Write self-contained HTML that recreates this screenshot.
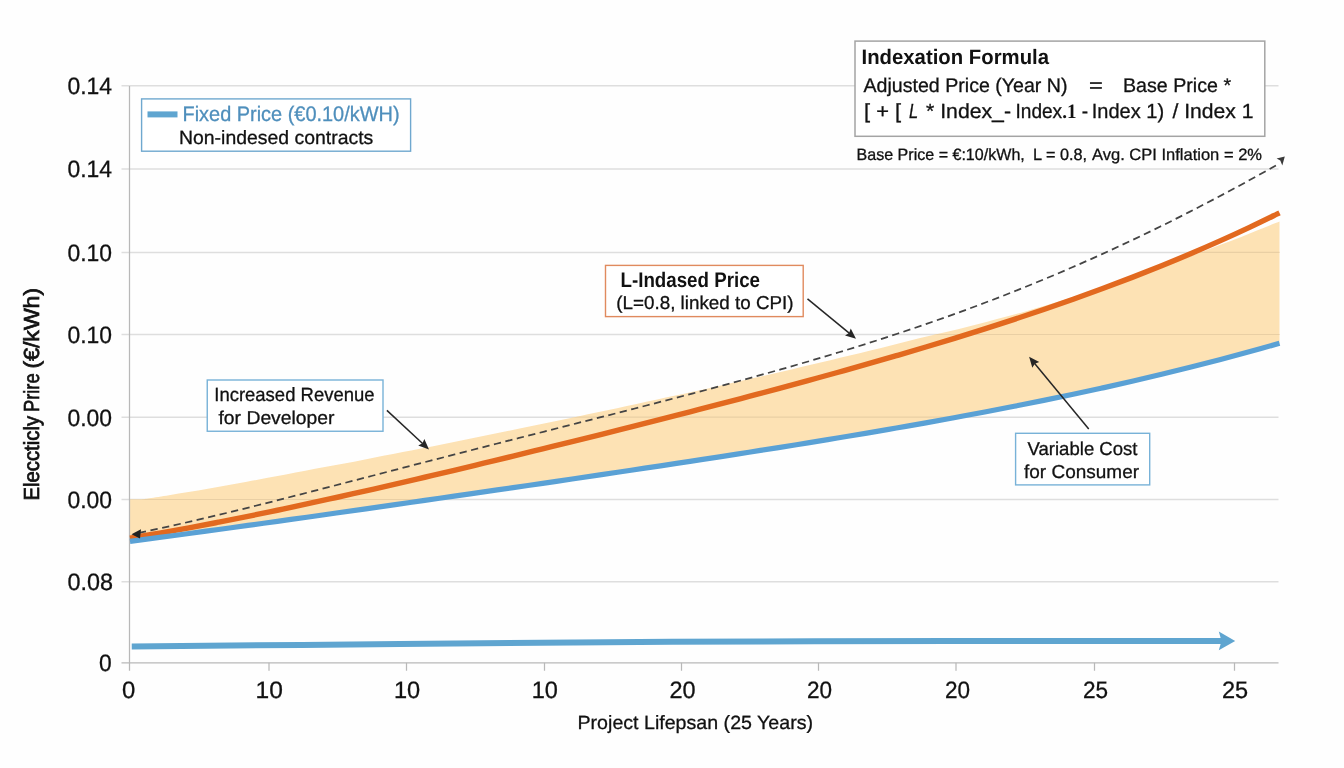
<!DOCTYPE html>
<html lang="en">
<head>
<meta charset="utf-8">
<title>Indexation Formula - Electricity Price over Project Lifespan</title>
<style>
html,body{margin:0;padding:0;background:#fefefe;}
body{width:1344px;height:768px;overflow:hidden;}
svg{display:block;}
</style>
</head>
<body>
<svg width="1344" height="768" viewBox="0 0 1344 768" text-rendering="geometricPrecision" font-family='"Liberation Sans", Arial, Helvetica, sans-serif'>
<rect x="0" y="0" width="1344" height="768" fill="#fefefe"/>
<g stroke="#dedede" stroke-width="1.5" fill="none">
<line x1="121.50" y1="85.80" x2="1278.50" y2="85.80"/>
<line x1="121.50" y1="168.90" x2="1278.50" y2="168.90"/>
<line x1="121.50" y1="252.40" x2="1278.50" y2="252.40"/>
<line x1="121.50" y1="334.50" x2="1278.50" y2="334.50"/>
<line x1="121.50" y1="417.20" x2="1278.50" y2="417.20"/>
<line x1="121.50" y1="499.50" x2="1278.50" y2="499.50"/>
<line x1="121.50" y1="581.70" x2="1278.50" y2="581.70"/>
</g>
<path d="M130.00,499.50 C131.00,499.49 134.00,499.47 136.00,499.46 C138.00,499.44 139.75,499.60 142.00,499.40 C144.25,499.20 144.99,498.96 149.48,498.26 C153.98,497.56 162.47,496.24 168.97,495.20 C175.46,494.16 181.95,493.09 188.45,492.00 C194.94,490.91 201.44,489.81 207.93,488.68 C214.43,487.55 220.92,486.40 227.42,485.24 C233.91,484.08 240.40,482.89 246.90,481.69 C253.39,480.50 259.89,479.29 266.38,478.07 C272.88,476.86 279.37,475.64 285.86,474.42 C292.36,473.20 298.85,471.98 305.35,470.76 C311.84,469.54 318.34,468.32 324.83,467.09 C331.32,465.86 337.82,464.63 344.31,463.39 C350.81,462.14 357.30,460.89 363.80,459.64 C370.29,458.39 376.79,457.13 383.28,455.87 C389.77,454.62 396.27,453.35 402.76,452.09 C409.26,450.82 415.75,449.55 422.25,448.27 C428.74,446.99 435.23,445.70 441.73,444.41 C448.22,443.12 454.72,441.82 461.21,440.51 C467.71,439.21 474.20,437.89 480.69,436.58 C487.19,435.26 493.68,433.93 500.18,432.61 C506.67,431.28 513.17,429.94 519.66,428.60 C526.16,427.26 532.65,425.92 539.14,424.57 C545.64,423.22 552.13,421.86 558.63,420.50 C565.12,419.14 571.62,417.78 578.11,416.41 C584.60,415.04 591.10,413.66 597.59,412.28 C604.09,410.90 610.58,409.52 617.08,408.13 C623.57,406.74 630.06,405.35 636.56,403.95 C643.05,402.55 649.55,401.14 656.04,399.73 C662.54,398.32 669.03,396.91 675.53,395.49 C682.02,394.07 688.51,392.64 695.01,391.21 C701.50,389.77 708.00,388.34 714.49,386.89 C720.99,385.44 727.48,383.99 733.97,382.53 C740.47,381.07 746.96,379.60 753.46,378.12 C759.95,376.65 766.45,375.16 772.94,373.67 C779.44,372.18 785.93,370.67 792.42,369.16 C798.92,367.65 805.41,366.13 811.91,364.59 C818.40,363.06 824.90,361.52 831.39,359.96 C837.88,358.41 844.38,356.84 850.87,355.26 C857.37,353.68 863.86,352.08 870.36,350.48 C876.85,348.88 883.34,347.26 889.84,345.66 C896.33,344.06 902.83,342.44 909.32,340.86 C915.82,339.27 922.31,337.70 928.81,336.12 C935.30,334.55 941.79,333.00 948.29,331.42 C954.78,329.84 961.28,328.27 967.77,326.65 C974.27,325.03 980.76,323.40 987.25,321.71 C993.75,320.03 1000.24,318.31 1006.74,316.55 C1013.23,314.79 1019.73,312.98 1026.22,311.14 C1032.71,309.29 1039.21,307.40 1045.70,305.47 C1052.20,303.54 1058.69,301.57 1065.19,299.56 C1071.68,297.55 1078.18,295.50 1084.67,293.42 C1091.16,291.33 1097.66,289.21 1104.15,287.06 C1110.65,284.90 1117.14,282.70 1123.64,280.47 C1130.13,278.24 1136.62,275.97 1143.12,273.65 C1149.61,271.34 1156.11,268.98 1162.60,266.60 C1169.10,264.21 1175.59,261.78 1182.08,259.35 C1188.58,256.91 1195.07,254.45 1201.57,251.99 C1208.06,249.53 1214.56,247.07 1221.05,244.60 C1227.55,242.12 1234.04,239.69 1240.53,237.14 C1247.03,234.60 1253.52,231.92 1260.02,229.33 C1266.51,226.74 1276.25,222.87 1279.50,221.58 L1279.50,343.24 C1274.59,344.63 1259.85,348.87 1250.03,351.58 C1240.20,354.29 1230.38,356.93 1220.55,359.52 C1210.73,362.11 1200.90,364.63 1191.08,367.10 C1181.25,369.57 1171.43,371.98 1161.60,374.34 C1151.78,376.70 1141.95,379.00 1132.13,381.26 C1122.30,383.52 1112.48,385.73 1102.65,387.90 C1092.83,390.06 1083.00,392.18 1073.18,394.26 C1063.35,396.35 1053.53,398.38 1043.71,400.39 C1033.88,402.39 1024.06,404.35 1014.23,406.29 C1004.41,408.22 994.58,410.11 984.76,411.98 C974.93,413.85 965.11,415.68 955.28,417.49 C945.46,419.30 935.63,421.07 925.81,422.83 C915.98,424.58 906.16,426.31 896.33,428.02 C886.51,429.73 876.68,431.41 866.86,433.07 C857.03,434.74 847.21,436.38 837.38,438.01 C827.56,439.64 817.74,441.24 807.91,442.84 C798.09,444.43 788.26,446.01 778.44,447.57 C768.61,449.14 758.79,450.69 748.96,452.23 C739.14,453.77 729.31,455.29 719.49,456.81 C709.66,458.33 699.84,459.84 690.01,461.33 C680.19,462.83 670.36,464.32 660.54,465.81 C650.71,467.29 640.89,468.76 631.06,470.23 C621.24,471.70 611.41,473.16 601.59,474.62 C591.76,476.08 581.94,477.53 572.12,478.98 C562.29,480.43 552.47,481.87 542.64,483.31 C532.82,484.75 522.99,486.18 513.17,487.62 C503.34,489.05 493.52,490.48 483.69,491.90 C473.87,493.33 464.04,494.75 454.22,496.17 C444.39,497.59 434.57,499.00 424.74,500.42 C414.92,501.83 405.09,503.24 395.27,504.65 C385.44,506.06 375.62,507.46 365.79,508.86 C355.97,510.26 346.15,511.66 336.32,513.05 C326.50,514.44 316.67,515.83 306.85,517.21 C297.02,518.59 287.20,519.97 277.37,521.34 C267.55,522.71 257.72,524.08 247.90,525.44 C238.07,526.80 228.25,528.15 218.42,529.49 C208.60,530.84 198.77,532.17 188.95,533.50 C179.12,534.83 169.30,536.14 159.47,537.45 C149.65,538.75 134.91,540.68 130.00,541.33 Z" fill="#fde2b4"/>
<clipPath id="fc"><path d="M130.00,499.50 C131.00,499.49 134.00,499.47 136.00,499.46 C138.00,499.44 139.75,499.60 142.00,499.40 C144.25,499.20 144.99,498.96 149.48,498.26 C153.98,497.56 162.47,496.24 168.97,495.20 C175.46,494.16 181.95,493.09 188.45,492.00 C194.94,490.91 201.44,489.81 207.93,488.68 C214.43,487.55 220.92,486.40 227.42,485.24 C233.91,484.08 240.40,482.89 246.90,481.69 C253.39,480.50 259.89,479.29 266.38,478.07 C272.88,476.86 279.37,475.64 285.86,474.42 C292.36,473.20 298.85,471.98 305.35,470.76 C311.84,469.54 318.34,468.32 324.83,467.09 C331.32,465.86 337.82,464.63 344.31,463.39 C350.81,462.14 357.30,460.89 363.80,459.64 C370.29,458.39 376.79,457.13 383.28,455.87 C389.77,454.62 396.27,453.35 402.76,452.09 C409.26,450.82 415.75,449.55 422.25,448.27 C428.74,446.99 435.23,445.70 441.73,444.41 C448.22,443.12 454.72,441.82 461.21,440.51 C467.71,439.21 474.20,437.89 480.69,436.58 C487.19,435.26 493.68,433.93 500.18,432.61 C506.67,431.28 513.17,429.94 519.66,428.60 C526.16,427.26 532.65,425.92 539.14,424.57 C545.64,423.22 552.13,421.86 558.63,420.50 C565.12,419.14 571.62,417.78 578.11,416.41 C584.60,415.04 591.10,413.66 597.59,412.28 C604.09,410.90 610.58,409.52 617.08,408.13 C623.57,406.74 630.06,405.35 636.56,403.95 C643.05,402.55 649.55,401.14 656.04,399.73 C662.54,398.32 669.03,396.91 675.53,395.49 C682.02,394.07 688.51,392.64 695.01,391.21 C701.50,389.77 708.00,388.34 714.49,386.89 C720.99,385.44 727.48,383.99 733.97,382.53 C740.47,381.07 746.96,379.60 753.46,378.12 C759.95,376.65 766.45,375.16 772.94,373.67 C779.44,372.18 785.93,370.67 792.42,369.16 C798.92,367.65 805.41,366.13 811.91,364.59 C818.40,363.06 824.90,361.52 831.39,359.96 C837.88,358.41 844.38,356.84 850.87,355.26 C857.37,353.68 863.86,352.08 870.36,350.48 C876.85,348.88 883.34,347.26 889.84,345.66 C896.33,344.06 902.83,342.44 909.32,340.86 C915.82,339.27 922.31,337.70 928.81,336.12 C935.30,334.55 941.79,333.00 948.29,331.42 C954.78,329.84 961.28,328.27 967.77,326.65 C974.27,325.03 980.76,323.40 987.25,321.71 C993.75,320.03 1000.24,318.31 1006.74,316.55 C1013.23,314.79 1019.73,312.98 1026.22,311.14 C1032.71,309.29 1039.21,307.40 1045.70,305.47 C1052.20,303.54 1058.69,301.57 1065.19,299.56 C1071.68,297.55 1078.18,295.50 1084.67,293.42 C1091.16,291.33 1097.66,289.21 1104.15,287.06 C1110.65,284.90 1117.14,282.70 1123.64,280.47 C1130.13,278.24 1136.62,275.97 1143.12,273.65 C1149.61,271.34 1156.11,268.98 1162.60,266.60 C1169.10,264.21 1175.59,261.78 1182.08,259.35 C1188.58,256.91 1195.07,254.45 1201.57,251.99 C1208.06,249.53 1214.56,247.07 1221.05,244.60 C1227.55,242.12 1234.04,239.69 1240.53,237.14 C1247.03,234.60 1253.52,231.92 1260.02,229.33 C1266.51,226.74 1276.25,222.87 1279.50,221.58 L1279.50,343.24 C1274.59,344.63 1259.85,348.87 1250.03,351.58 C1240.20,354.29 1230.38,356.93 1220.55,359.52 C1210.73,362.11 1200.90,364.63 1191.08,367.10 C1181.25,369.57 1171.43,371.98 1161.60,374.34 C1151.78,376.70 1141.95,379.00 1132.13,381.26 C1122.30,383.52 1112.48,385.73 1102.65,387.90 C1092.83,390.06 1083.00,392.18 1073.18,394.26 C1063.35,396.35 1053.53,398.38 1043.71,400.39 C1033.88,402.39 1024.06,404.35 1014.23,406.29 C1004.41,408.22 994.58,410.11 984.76,411.98 C974.93,413.85 965.11,415.68 955.28,417.49 C945.46,419.30 935.63,421.07 925.81,422.83 C915.98,424.58 906.16,426.31 896.33,428.02 C886.51,429.73 876.68,431.41 866.86,433.07 C857.03,434.74 847.21,436.38 837.38,438.01 C827.56,439.64 817.74,441.24 807.91,442.84 C798.09,444.43 788.26,446.01 778.44,447.57 C768.61,449.14 758.79,450.69 748.96,452.23 C739.14,453.77 729.31,455.29 719.49,456.81 C709.66,458.33 699.84,459.84 690.01,461.33 C680.19,462.83 670.36,464.32 660.54,465.81 C650.71,467.29 640.89,468.76 631.06,470.23 C621.24,471.70 611.41,473.16 601.59,474.62 C591.76,476.08 581.94,477.53 572.12,478.98 C562.29,480.43 552.47,481.87 542.64,483.31 C532.82,484.75 522.99,486.18 513.17,487.62 C503.34,489.05 493.52,490.48 483.69,491.90 C473.87,493.33 464.04,494.75 454.22,496.17 C444.39,497.59 434.57,499.00 424.74,500.42 C414.92,501.83 405.09,503.24 395.27,504.65 C385.44,506.06 375.62,507.46 365.79,508.86 C355.97,510.26 346.15,511.66 336.32,513.05 C326.50,514.44 316.67,515.83 306.85,517.21 C297.02,518.59 287.20,519.97 277.37,521.34 C267.55,522.71 257.72,524.08 247.90,525.44 C238.07,526.80 228.25,528.15 218.42,529.49 C208.60,530.84 198.77,532.17 188.95,533.50 C179.12,534.83 169.30,536.14 159.47,537.45 C149.65,538.75 134.91,540.68 130.00,541.33 Z"/></clipPath>
<g stroke="#e9cfa4" stroke-width="1.2" clip-path="url(#fc)">
<line x1="129.50" y1="85.80" x2="1280.50" y2="85.80"/>
<line x1="129.50" y1="168.90" x2="1280.50" y2="168.90"/>
<line x1="129.50" y1="252.40" x2="1280.50" y2="252.40"/>
<line x1="129.50" y1="334.50" x2="1280.50" y2="334.50"/>
<line x1="129.50" y1="417.20" x2="1280.50" y2="417.20"/>
<line x1="129.50" y1="499.50" x2="1280.50" y2="499.50"/>
<line x1="129.50" y1="581.70" x2="1280.50" y2="581.70"/>
</g>
<g stroke="#b8b8b8" stroke-width="1.25" fill="none">
<line x1="129.50" y1="86.00" x2="129.50" y2="670.75"/>
<line x1="121.50" y1="662.75" x2="1278.50" y2="662.75"/>
<line x1="269.00" y1="662.75" x2="269.00" y2="670.75"/>
<line x1="406.50" y1="662.75" x2="406.50" y2="670.75"/>
<line x1="544.50" y1="662.75" x2="544.50" y2="670.75"/>
<line x1="681.50" y1="662.75" x2="681.50" y2="670.75"/>
<line x1="818.50" y1="662.75" x2="818.50" y2="670.75"/>
<line x1="956.00" y1="662.75" x2="956.00" y2="670.75"/>
<line x1="1094.50" y1="662.75" x2="1094.50" y2="670.75"/>
<line x1="1234.50" y1="662.75" x2="1234.50" y2="670.75"/>
</g>
<path d="M130.00,538.17 C134.91,537.34 149.65,534.88 159.47,533.16 C169.30,531.44 179.12,529.65 188.95,527.83 C198.77,526.01 208.60,524.13 218.42,522.21 C228.25,520.30 238.07,518.34 247.90,516.34 C257.72,514.35 267.55,512.31 277.37,510.25 C287.20,508.18 297.02,506.08 306.85,503.95 C316.67,501.83 326.50,499.67 336.32,497.49 C346.15,495.30 355.97,493.10 365.79,490.87 C375.62,488.64 385.44,486.39 395.27,484.12 C405.09,481.85 414.92,479.56 424.74,477.25 C434.57,474.95 444.39,472.62 454.22,470.29 C464.04,467.95 473.87,465.60 483.69,463.23 C493.52,460.87 503.34,458.49 513.17,456.10 C522.99,453.71 532.82,451.31 542.64,448.89 C552.47,446.48 562.29,444.05 572.12,441.62 C581.94,439.18 591.76,436.73 601.59,434.27 C611.41,431.81 621.24,429.34 631.06,426.86 C640.89,424.38 650.71,421.89 660.54,419.38 C670.36,416.87 680.19,414.35 690.01,411.82 C699.84,409.29 709.66,406.74 719.49,404.18 C729.31,401.61 739.14,399.03 748.96,396.43 C758.79,393.83 768.61,391.22 778.44,388.58 C788.26,385.94 798.09,383.29 807.91,380.60 C817.74,377.92 827.56,375.22 837.38,372.48 C847.21,369.74 857.03,366.99 866.86,364.19 C876.68,361.40 886.51,358.57 896.33,355.71 C906.16,352.85 915.98,349.96 925.81,347.02 C935.63,344.08 945.46,341.11 955.28,338.08 C965.11,335.05 974.93,331.99 984.76,328.87 C994.58,325.74 1004.41,322.57 1014.23,319.34 C1024.06,316.11 1033.88,312.83 1043.71,309.47 C1053.53,306.12 1063.35,302.71 1073.18,299.22 C1083.00,295.73 1092.83,292.18 1102.65,288.54 C1112.48,284.90 1122.30,281.19 1132.13,277.39 C1141.95,273.59 1151.78,269.70 1161.60,265.72 C1171.43,261.74 1181.25,257.67 1191.08,253.49 C1200.90,249.31 1210.73,245.04 1220.55,240.64 C1230.38,236.25 1240.20,231.75 1250.03,227.12 C1259.85,222.50 1274.59,215.25 1279.50,212.88" fill="none" stroke="#e2691f" stroke-width="5.4"/>
<path d="M130.00,541.33 C134.91,540.68 149.65,538.75 159.47,537.45 C169.30,536.14 179.12,534.83 188.95,533.50 C198.77,532.17 208.60,530.84 218.42,529.49 C228.25,528.15 238.07,526.80 247.90,525.44 C257.72,524.08 267.55,522.71 277.37,521.34 C287.20,519.97 297.02,518.59 306.85,517.21 C316.67,515.83 326.50,514.44 336.32,513.05 C346.15,511.66 355.97,510.26 365.79,508.86 C375.62,507.46 385.44,506.06 395.27,504.65 C405.09,503.24 414.92,501.83 424.74,500.42 C434.57,499.00 444.39,497.59 454.22,496.17 C464.04,494.75 473.87,493.33 483.69,491.90 C493.52,490.48 503.34,489.05 513.17,487.62 C522.99,486.18 532.82,484.75 542.64,483.31 C552.47,481.87 562.29,480.43 572.12,478.98 C581.94,477.53 591.76,476.08 601.59,474.62 C611.41,473.16 621.24,471.70 631.06,470.23 C640.89,468.76 650.71,467.29 660.54,465.81 C670.36,464.32 680.19,462.83 690.01,461.33 C699.84,459.84 709.66,458.33 719.49,456.81 C729.31,455.29 739.14,453.77 748.96,452.23 C758.79,450.69 768.61,449.14 778.44,447.57 C788.26,446.01 798.09,444.43 807.91,442.84 C817.74,441.24 827.56,439.64 837.38,438.01 C847.21,436.38 857.03,434.74 866.86,433.07 C876.68,431.41 886.51,429.73 896.33,428.02 C906.16,426.31 915.98,424.58 925.81,422.83 C935.63,421.07 945.46,419.30 955.28,417.49 C965.11,415.68 974.93,413.85 984.76,411.98 C994.58,410.11 1004.41,408.22 1014.23,406.29 C1024.06,404.35 1033.88,402.39 1043.71,400.39 C1053.53,398.38 1063.35,396.35 1073.18,394.26 C1083.00,392.18 1092.83,390.06 1102.65,387.90 C1112.48,385.73 1122.30,383.52 1132.13,381.26 C1141.95,379.00 1151.78,376.70 1161.60,374.34 C1171.43,371.98 1181.25,369.57 1191.08,367.10 C1200.90,364.63 1210.73,362.11 1220.55,359.52 C1230.38,356.93 1240.20,354.29 1250.03,351.58 C1259.85,348.87 1274.59,344.63 1279.50,343.24" fill="none" stroke="#5aa1d5" stroke-width="5.2"/>
<path d="M139.00,532.78 C143.86,531.74 158.44,528.71 168.17,526.57 C177.89,524.43 187.61,522.21 197.33,519.94 C207.06,517.68 216.78,515.34 226.50,512.98 C236.22,510.62 245.94,508.20 255.67,505.77 C265.39,503.34 275.11,500.87 284.83,498.39 C294.56,495.91 304.28,493.41 314.00,490.90 C323.72,488.39 333.44,485.87 343.17,483.34 C352.89,480.82 362.61,478.29 372.33,475.76 C382.06,473.24 391.78,470.71 401.50,468.19 C411.22,465.66 420.94,463.15 430.67,460.63 C440.39,458.12 450.11,455.62 459.83,453.12 C469.56,450.62 479.28,448.13 489.00,445.64 C498.72,443.15 508.44,440.67 518.17,438.20 C527.89,435.72 537.61,433.25 547.33,430.78 C557.06,428.31 566.78,425.84 576.50,423.37 C586.22,420.90 595.94,418.43 605.67,415.95 C615.39,413.47 625.11,410.98 634.83,408.48 C644.56,405.99 654.28,403.48 664.00,400.95 C673.72,398.42 683.44,395.89 693.17,393.32 C702.89,390.75 712.61,388.16 722.33,385.54 C732.06,382.92 741.78,380.27 751.50,377.59 C761.22,374.90 770.94,372.18 780.67,369.42 C790.39,366.65 800.11,363.84 809.83,360.99 C819.56,358.13 829.28,355.22 839.00,352.26 C848.72,349.29 858.44,346.27 868.17,343.19 C877.89,340.10 887.61,336.96 897.33,333.74 C907.06,330.53 916.78,327.24 926.50,323.88 C936.22,320.52 945.94,317.09 955.67,313.57 C965.39,310.06 975.11,306.47 984.83,302.79 C994.56,299.10 1004.28,295.34 1014.00,291.49 C1023.72,287.63 1033.44,283.69 1043.17,279.66 C1052.89,275.63 1062.61,271.50 1072.33,267.28 C1082.06,263.07 1091.78,258.75 1101.50,254.35 C1111.22,249.94 1120.94,245.44 1130.67,240.84 C1140.39,236.25 1150.11,231.56 1159.83,226.78 C1169.56,221.99 1179.28,217.12 1189.00,212.15 C1198.72,207.19 1208.44,202.13 1218.17,196.99 C1227.89,191.85 1237.61,186.62 1247.33,181.31 C1257.06,176.01 1271.64,167.85 1276.50,165.16" fill="none" stroke="#444444" stroke-width="1.75" stroke-dasharray="7.3 4.5"/>
<polygon points="131.5,534.3 141,529.2 140,538.6" fill="#222"/>
<polygon points="1284.8,156.5 1282.3,165.4 1280.3,160.6 1276.6,158.6" fill="#3a3a3a"/>
<path d="M131.75,646.50 C176.46,646.08 309.96,644.79 400.00,644.00 C490.04,643.21 580.33,642.25 672.00,641.75 C763.67,641.25 858.17,641.12 950.00,641.00 C1041.83,640.88 1177.50,641.00 1223.00,641.00" fill="none" stroke="#5fa5d0" stroke-width="6"/>
<polygon points="1218.8,631.6 1235.2,641 1218.8,650.3 1221.5,641" fill="#5fa5d0"/>
<rect x="141.6" y="98.9" width="269" height="52.3" fill="#ffffff" stroke="#6fa8cf" stroke-width="1.4"/>
<line x1="147.5" y1="114.4" x2="177.5" y2="114.4" stroke="#5fa5d0" stroke-width="6"/>
<rect x="207.25" y="380" width="175.75" height="51.25" fill="#ffffff" stroke="#78b2d8" stroke-width="1.4"/>
<line x1="386.90" y1="410.40" x2="422.84" y2="443.69" stroke="#262626" stroke-width="1.50"/>
<polygon points="429.00,449.40 418.24,445.57 422.45,443.33 424.36,438.96" fill="#262626"/>
<rect x="605.5" y="265.4" width="197.7" height="51.2" fill="#ffffff" stroke="#e08a5e" stroke-width="1.4"/>
<line x1="807.50" y1="298.90" x2="849.51" y2="333.42" stroke="#262626" stroke-width="1.50"/>
<polygon points="856.00,338.75 845.03,335.56 849.10,333.08 850.74,328.61" fill="#262626"/>
<rect x="1015.6" y="433.3" width="134.1" height="51.6" fill="#ffffff" stroke="#78b2d8" stroke-width="1.4"/>
<line x1="1088.75" y1="429.00" x2="1034.45" y2="363.28" stroke="#262626" stroke-width="1.50"/>
<polygon points="1029.10,356.80 1039.26,362.03 1034.78,363.68 1032.32,367.76" fill="#262626"/>
<rect x="855" y="41.1" width="409.8" height="95.2" fill="#ffffff" stroke="#a4a4a4" stroke-width="1.5"/>
<text x="67.50" y="94.30" font-size="23.70" fill="#111111" stroke="#111111" stroke-width="0.3" textLength="44.57" lengthAdjust="spacingAndGlyphs">0.14</text>
<text x="67.50" y="177.40" font-size="23.70" fill="#111111" stroke="#111111" stroke-width="0.3" textLength="44.57" lengthAdjust="spacingAndGlyphs">0.14</text>
<text x="67.50" y="260.90" font-size="23.70" fill="#111111" stroke="#111111" stroke-width="0.3" textLength="44.57" lengthAdjust="spacingAndGlyphs">0.10</text>
<text x="67.50" y="343.00" font-size="23.70" fill="#111111" stroke="#111111" stroke-width="0.3" textLength="44.57" lengthAdjust="spacingAndGlyphs">0.10</text>
<text x="67.50" y="425.70" font-size="23.70" fill="#111111" stroke="#111111" stroke-width="0.3" textLength="44.57" lengthAdjust="spacingAndGlyphs">0.00</text>
<text x="67.50" y="508.00" font-size="23.70" fill="#111111" stroke="#111111" stroke-width="0.3" textLength="44.57" lengthAdjust="spacingAndGlyphs">0.00</text>
<text x="67.50" y="590.20" font-size="23.70" fill="#111111" stroke="#111111" stroke-width="0.3" textLength="45.58" lengthAdjust="spacingAndGlyphs">0.08</text>
<text x="99.00" y="670.65" font-size="23.70" fill="#111111" stroke="#111111" stroke-width="0.3" textLength="12.69" lengthAdjust="spacingAndGlyphs">0</text>
<text x="122.00" y="697.70" font-size="23.70" fill="#111111" stroke="#111111" stroke-width="0.3" textLength="13.29" lengthAdjust="spacingAndGlyphs">0</text>
<text x="255.50" y="697.70" font-size="23.70" fill="#111111" stroke="#111111" stroke-width="0.3" textLength="27.34" lengthAdjust="spacingAndGlyphs">10</text>
<text x="394.00" y="697.70" font-size="23.70" fill="#111111" stroke="#111111" stroke-width="0.3" textLength="26.24" lengthAdjust="spacingAndGlyphs">10</text>
<text x="531.75" y="697.70" font-size="23.70" fill="#111111" stroke="#111111" stroke-width="0.3" textLength="26.20" lengthAdjust="spacingAndGlyphs">10</text>
<text x="669.50" y="697.70" font-size="23.70" fill="#111111" stroke="#111111" stroke-width="0.3" textLength="26.10" lengthAdjust="spacingAndGlyphs">20</text>
<text x="807.00" y="697.70" font-size="23.70" fill="#111111" stroke="#111111" stroke-width="0.3" textLength="25.06" lengthAdjust="spacingAndGlyphs">20</text>
<text x="945.00" y="697.70" font-size="23.70" fill="#111111" stroke="#111111" stroke-width="0.3" textLength="25.06" lengthAdjust="spacingAndGlyphs">20</text>
<text x="1083.00" y="697.70" font-size="23.70" fill="#111111" stroke="#111111" stroke-width="0.3" textLength="25.10" lengthAdjust="spacingAndGlyphs">25</text>
<text x="1222.00" y="697.70" font-size="23.70" fill="#111111" stroke="#111111" stroke-width="0.3" textLength="26.20" lengthAdjust="spacingAndGlyphs">25</text>
<text x="577.50" y="728.60" font-size="19.20" fill="#111111" stroke="#111111" stroke-width="0.3" textLength="235.52" lengthAdjust="spacingAndGlyphs">Project Lifepsan (25 Years)</text>
<text transform="translate(38.90,500.50) rotate(-90)" font-size="21.80" fill="#111111" stroke="#111111" stroke-width="0.7" textLength="84.53" lengthAdjust="spacingAndGlyphs">Eleccticly</text>
<text transform="translate(38.90,412.00) rotate(-90)" font-size="21.80" fill="#111111" stroke="#111111" stroke-width="0.7" textLength="38.56" lengthAdjust="spacingAndGlyphs">Prire</text>
<text transform="translate(38.90,368.50) rotate(-90)" font-size="21.80" fill="#111111" stroke="#111111" stroke-width="0.7" textLength="80.58" lengthAdjust="spacingAndGlyphs">(€/kWh)</text>
<text x="182.50" y="120.75" font-size="21.00" fill="#4f8fbc" stroke="#4f8fbc" stroke-width="0.3" textLength="217.05" lengthAdjust="spacingAndGlyphs">Fixed Price (€0.10/kWH)</text>
<text x="179.00" y="144.40" font-size="19.20" fill="#111111" stroke="#111111" stroke-width="0.3" textLength="194.28" lengthAdjust="spacingAndGlyphs">Non-indesed contracts</text>
<text x="214.25" y="401.30" font-size="19.20" fill="#111111" stroke="#111111" stroke-width="0.3" textLength="160.27" lengthAdjust="spacingAndGlyphs">Increased Revenue</text>
<text x="218.50" y="424.40" font-size="18.60" fill="#111111" stroke="#111111" stroke-width="0.3" textLength="116.01" lengthAdjust="spacingAndGlyphs">for Developer</text>
<text x="620.50" y="287.00" font-size="21.10" fill="#111111" font-weight="bold" textLength="139.54" lengthAdjust="spacingAndGlyphs">L-Indased Price</text>
<text x="616.25" y="309.30" font-size="18.60" fill="#111111" stroke="#111111" stroke-width="0.3" textLength="177.28" lengthAdjust="spacingAndGlyphs">(L=0.8, linked to CPI)</text>
<text x="1027.50" y="455.25" font-size="18.70" fill="#111111" stroke="#111111" stroke-width="0.3" textLength="110.02" lengthAdjust="spacingAndGlyphs">Variable Cost</text>
<text x="1024.00" y="477.75" font-size="18.70" fill="#111111" stroke="#111111" stroke-width="0.3" textLength="115.01" lengthAdjust="spacingAndGlyphs">for Consumer</text>
<text x="861.50" y="64.20" font-size="20.90" fill="#111111" font-weight="bold" textLength="187.51" lengthAdjust="spacingAndGlyphs">Indexation Formula</text>
<text x="863.50" y="91.70" font-size="19.80" fill="#111111" stroke="#111111" stroke-width="0.3" textLength="204.00" lengthAdjust="spacingAndGlyphs">Adjusted Price (Year N)</text>
<text x="1089.00" y="91.70" font-size="19.80" fill="#111111" stroke="#111111" stroke-width="0.3" textLength="13.81" lengthAdjust="spacingAndGlyphs">=</text>
<text x="1123.00" y="91.70" font-size="19.80" fill="#111111" stroke="#111111" stroke-width="0.3" textLength="108.04" lengthAdjust="spacingAndGlyphs">Base Price *</text>
<text x="864.00" y="117.90" font-size="20.50" fill="#111111" stroke="#111111" stroke-width="0.3" textLength="37.08" lengthAdjust="spacingAndGlyphs">[ + [</text>
<text x="909.00" y="117.90" font-size="20.50" fill="#111111" font-style="italic" stroke="#111111" stroke-width="0.3" textLength="9.14" lengthAdjust="spacingAndGlyphs">L</text>
<text x="926.00" y="117.90" font-size="20.50" fill="#111111" stroke="#111111" stroke-width="0.3" textLength="85.01" lengthAdjust="spacingAndGlyphs">* Index_-</text>
<text x="1015.50" y="117.90" font-size="20.50" fill="#111111" stroke="#111111" stroke-width="0.3" textLength="72.62" lengthAdjust="spacingAndGlyphs">Index<tspan font-family='"Liberation Serif", serif' font-weight="bold" stroke="none">.1</tspan> -</text>
<text x="1091.75" y="117.90" font-size="20.50" fill="#111111" stroke="#111111" stroke-width="0.3" textLength="72.36" lengthAdjust="spacingAndGlyphs">Index 1)</text>
<text x="1172.50" y="117.90" font-size="20.50" fill="#111111" stroke="#111111" stroke-width="0.3" textLength="81.01" lengthAdjust="spacingAndGlyphs">/ Index 1</text>
<text x="856.50" y="159.70" font-size="16.40" fill="#111111" stroke="#111111" stroke-width="0.3" textLength="168.30" lengthAdjust="spacingAndGlyphs">Base Price = €:10/kWh,</text>
<text x="1033.00" y="159.70" font-size="16.40" fill="#111111" stroke="#111111" stroke-width="0.3" textLength="54.13" lengthAdjust="spacingAndGlyphs">L = 0.8,</text>
<text x="1092.00" y="159.70" font-size="16.40" fill="#111111" stroke="#111111" stroke-width="0.3" textLength="170.01" lengthAdjust="spacingAndGlyphs">Avg. CPI Inflation = 2%</text>
</svg>
</body>
</html>
